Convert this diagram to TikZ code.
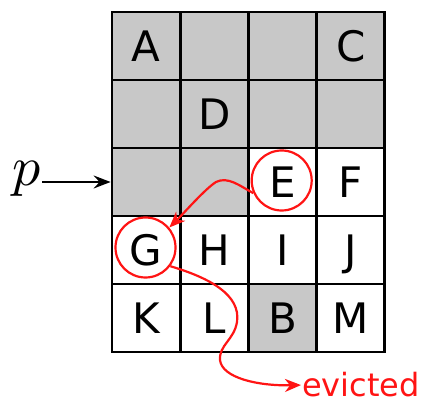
\documentclass[tikz,border=0pt]{standalone}
\usepackage{fontspec}
\setsansfont{DejaVu Sans}
\usetikzlibrary{arrows.meta}
\definecolor{shade}{HTML}{C8C8C8}
\definecolor{mark}{HTML}{FF1414}
\begin{document}
\begin{tikzpicture}[x=1pt,y=-1pt,
  cell/.style={draw=black, line width=2.8pt, minimum width=68.2pt, minimum height=68pt,
    inner sep=0pt, font=\sffamily\fontsize{42}{42}\selectfont, text height=30.6pt, text depth=0pt},
  full/.style={cell, fill=shade},
  ring/.style={circle, draw=mark, line width=2.2pt, minimum size=60pt, inner sep=0pt},
  evict/.style={draw=mark, line width=2.2pt, -{Stealth[length=16pt, width=13pt, inset=5pt]}},
  pointer/.style={draw=black, line width=2.2pt, -{Stealth[length=17pt, width=13pt, inset=6pt]}}]
\useasboundingbox (0,0) rectangle (432,406);

% row 1
\node[full] (c11) at (146.1,46) {A};
\node[full] (c12) at (214.3,46) {};
\node[full] (c13) at (282.5,46) {};
\node[full] (c14) at (350.7,46) {C};
% row 2
\node[full] (c21) at (146.1,114) {};
\node[full] (c22) at (214.3,114) {D};
\node[full] (c23) at (282.5,114) {};
\node[full] (c24) at (350.7,114) {};
% row 3
\node[full] (c31) at (146.1,182) {};
\node[full] (c32) at (214.3,182) {};
\node[cell] (c33) at (282.5,182) {E};
\node[cell] (c34) at (350.7,182) {F};
% row 4
\node[cell] (c41) at (146.1,250) {G};
\node[cell] (c42) at (214.3,250) {H};
\node[cell] (c43) at (282.5,250) {I};
\node[cell] (c44) at (350.7,250) {J};
% row 5
\node[cell] (c51) at (146.1,318) {K};
\node[cell] (c52) at (214.3,318) {L};
\node[full] (c53) at (282.5,318) {B};
\node[cell] (c54) at (350.7,318) {M};

% pointer p
\node[anchor=base, inner sep=0pt, scale=5.6] (p) at (27,186) {$p$};
\draw[pointer] (p.east |- c31.west) -- (c31.west);

% marked entries
\node[ring] (rE) at (281.7,180.5) {};
\node[ring] (rG) at (145.5,247.5) {};

% moved entry and evicted entry
\node[anchor=base west, inner sep=1pt, text=mark, font=\sffamily\fontsize{32}{32}\selectfont] (ev) at (301,397) {evicted};
\draw[evict] (rE.204) .. controls (240,186) and (228,176) .. (216,182)
  .. controls (205,189) and (185,212) .. (rG.40);
\draw[evict] (rG.-37) .. controls (210,278) and (241,295) .. (237,322)
  .. controls (234,340) and (219,345) .. (220,360)
  .. controls (222,378) and (258,386) .. (ev.west);
\end{tikzpicture}
\end{document}
